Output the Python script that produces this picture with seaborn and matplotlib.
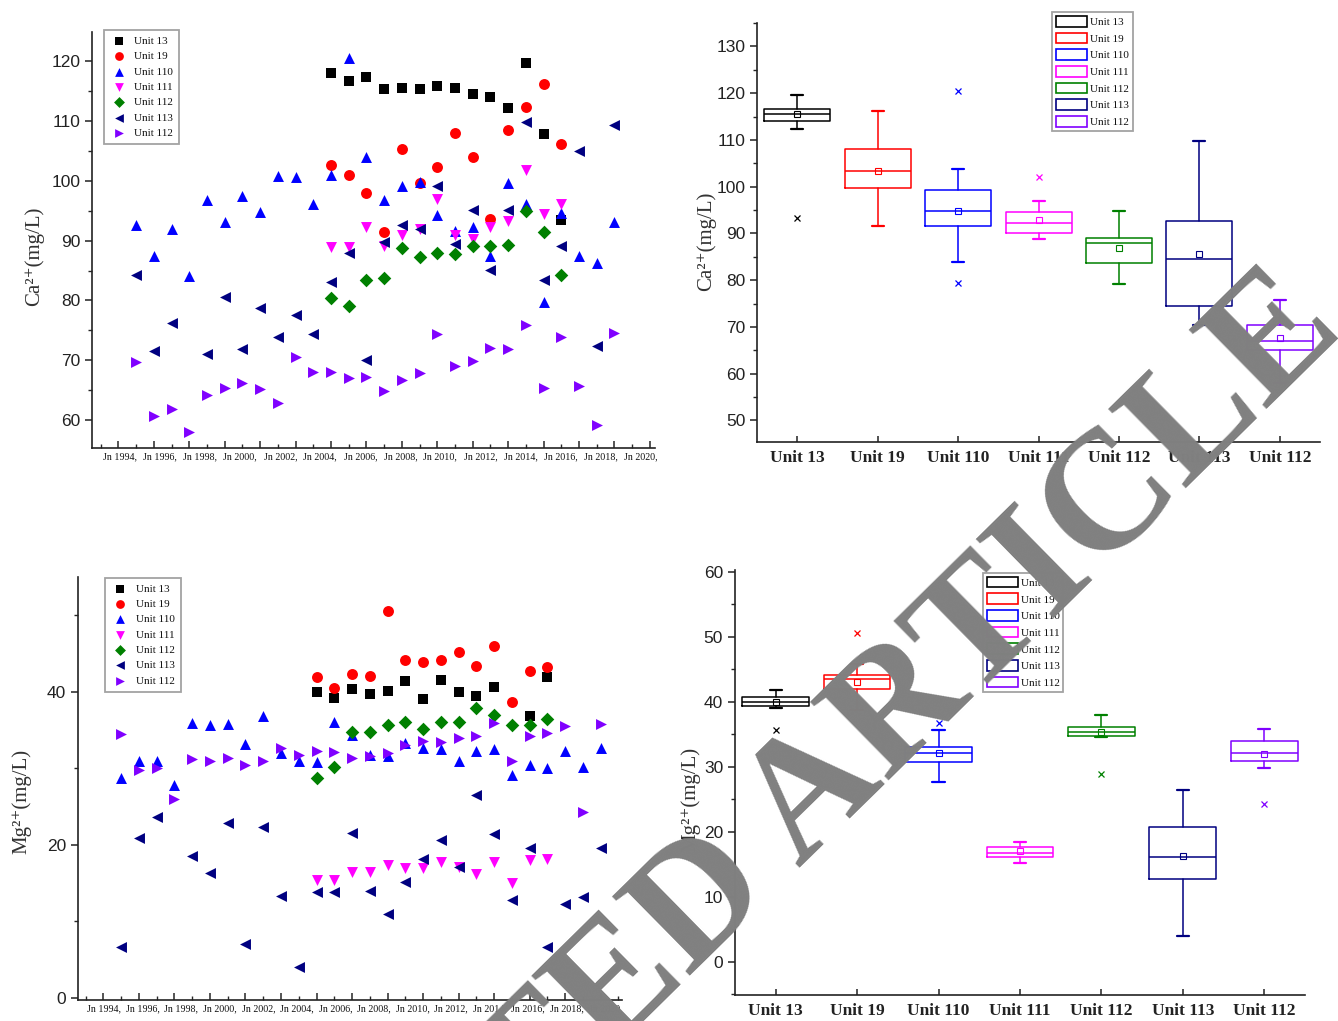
import matplotlib
matplotlib.use("Agg")
import matplotlib.pyplot as plt
from matplotlib.patches import Patch
from matplotlib.ticker import MultipleLocator
import numpy as np
import seaborn as sns

# ---------------- data ----------------
units = ["Unit 13", "Unit 19", "Unit 110", "Unit 111", "Unit 112", "Unit 113", "Unit 112"]
colors = ["#000000", "#FF0000", "#0000FF", "#FF00FF", "#008000", "#000080", "#8000FF"]
markers = ["s", "o", "^", "v", "D", "<", ">"]

date_labels = ["Jn 1994,", "Jn 1996,", "Jn 1998,", "Jn 2000,", "Jn 2002,", "Jn 2004,", "Jn 2006,",
               "Jn 2008,", "Jn 2010,", "Jn 2012,", "Jn 2014,", "Jn 2016,", "Jn 2018,", "Jn 2020,"]

# sampling index of each observation (one step per sampling campaign)
idx_late = list(range(12, 26))
idx_all = list(range(1, 29))
idx_113 = [1, 2, 3] + list(range(5, 29))
idx_mg13 = list(range(12, 23)) + [24, 25]

# Ca2+ (mg/L)
ca_u13 = [118.1, 116.7, 117.4, 115.4, 115.5, 115.4, 115.9, 115.5, 114.5, 114.0, 112.2, 119.7, 107.9, 93.4]
ca_u19 = [102.7, 100.9, 97.9, 91.5, 105.3, 99.7, 102.3, 108.0, 104.0, 93.6, 108.5, 112.4, 116.2, 106.2]
ca_u110 = [92.6, 87.5, 91.9, 84.0, 96.8, 93.1, 97.5, 94.8, 100.8, 100.7, 96.2, 100.9, 120.6, 104.0,
           96.8, 99.2, 99.8, 94.3, 91.6, 92.2, 87.5, 99.7, 96.2, 79.7, 94.7, 87.4, 86.2, 93.1]
ca_u111 = [89.0, 88.9, 92.2, 89.1, 90.9, 91.9, 96.9, 90.9, 90.2, 92.3, 93.3, 101.9, 94.5, 96.1]
ca_u112 = [80.4, 79.1, 83.4, 83.7, 88.7, 87.3, 87.9, 87.7, 89.1, 89.1, 89.2, 94.9, 91.5, 84.3]
ca_u113 = [84.3, 71.5, 76.3, 71.1, 80.6, 71.8, 78.8, 73.8, 77.5, 74.4, 83.1, 87.9, 70.0, 89.7,
           92.6, 92.0, 99.2, 89.5, 95.1, 85.1, 95.1, 109.9, 83.4, 89.1, 105.0, 72.4, 109.4]
ca_u112b = [69.7, 60.7, 61.8, 57.9, 64.2, 65.3, 66.1, 65.1, 62.9, 70.6, 68.1, 68.1, 67.0, 67.1,
            64.9, 66.7, 67.9, 74.4, 69.1, 69.9, 72.0, 71.9, 75.8, 65.4, 73.9, 65.7, 59.2, 74.5]

# Mg2+ (mg/L)
mg_u13 = [40.0, 39.2, 40.3, 39.7, 40.1, 41.4, 39.0, 41.5, 40.0, 39.4, 40.6, 36.9, 41.9]
mg_u19 = [41.9, 40.5, 42.3, 42.0, 50.6, 44.2, 43.9, 44.1, 45.2, 43.4, 46.0, 38.7, 42.7, 43.3]
mg_u110 = [28.7, 31.0, 31.0, 27.8, 35.9, 35.7, 35.8, 33.2, 36.9, 32.0, 31.0, 30.8, 36.0, 34.3,
           31.8, 31.6, 33.3, 32.7, 32.5, 31.0, 32.2, 32.5, 29.1, 30.5, 30.0, 32.3, 30.2, 32.7]
mg_u111 = [15.4, 15.4, 16.5, 16.5, 17.4, 17.0, 17.0, 17.7, 17.1, 16.2, 17.8, 15.0, 18.0, 18.2]
mg_u112 = [28.8, 30.2, 34.8, 34.7, 35.6, 36.0, 35.1, 36.1, 36.1, 37.9, 37.0, 35.6, 35.6, 36.4]
mg_u113 = [6.6, 20.9, 23.6, 18.6, 16.3, 22.8, 7.0, 22.4, 13.3, 4.1, 13.9, 13.9, 21.5, 14.0,
           11.0, 15.2, 18.2, 20.6, 17.1, 26.5, 21.4, 12.8, 19.6, 6.7, 12.3, 13.2, 19.6]
mg_u112b = [34.5, 29.8, 30.0, 26.0, 31.2, 31.0, 31.3, 30.4, 31.0, 32.6, 31.8, 32.3, 32.1, 31.3,
            31.6, 32.0, 33.0, 33.6, 33.4, 34.0, 34.2, 35.9, 30.9, 34.2, 34.6, 35.5, 24.3, 35.8]

# box statistics per unit (Ca2+)
ca_q1 = [114.1, 99.8, 91.6, 90.1, 83.7, 74.4, 65.0]
ca_med = [115.5, 103.4, 94.8, 92.3, 87.9, 84.6, 67.0]
ca_q3 = [116.7, 108.0, 99.3, 94.6, 89.1, 92.6, 70.4]
ca_lo = [112.4, 91.6, 83.8, 88.9, 79.1, 70.4, 58.0]
ca_hi = [119.6, 116.1, 103.7, 97.0, 94.8, 109.8, 75.7]
ca_mean = [115.6, 103.4, 94.8, 92.9, 86.9, 85.6, 67.6]
ca_out = [[93.4], [], [120.5, 79.4], [102.0], [], [], []]

# box statistics per unit (Mg2+)
mg_q1 = [39.3, 42.0, 30.8, 16.1, 34.8, 12.8, 30.9]
mg_med = [40.0, 43.5, 32.1, 16.8, 35.4, 16.2, 32.1]
mg_q3 = [40.7, 44.2, 33.0, 17.6, 36.1, 20.8, 34.0]
mg_lo = [39.0, 38.7, 27.7, 15.2, 34.6, 4.0, 29.8]
mg_hi = [41.8, 45.8, 35.7, 18.4, 38.0, 26.5, 35.8]
mg_mean = [40.0, 43.0, 32.1, 17.0, 35.3, 16.3, 32.0]
mg_out = [[35.6], [50.6], [36.7], [], [28.9], [], [24.3]]

# ---------------- style ----------------
sns.set_theme(style="ticks")
plt.rcParams["font.family"] = ["Liberation Sans", "DejaVu Sans"]
plt.rcParams["axes.linewidth"] = 1.2
plt.rcParams["axes.edgecolor"] = "#222222"

SERIF = ["Liberation Serif", "DejaVu Serif"]

fig = plt.figure(figsize=(13.38, 10.21), dpi=100)
ax_tl = fig.add_axes([0.0688, 0.5612, 0.4208, 0.4074])
ax_tr = fig.add_axes([0.5658, 0.5671, 0.4208, 0.4104])
ax_bl = fig.add_axes([0.0583, 0.0206, 0.4066, 0.4143])
ax_br = fig.add_axes([0.5493, 0.0255, 0.4260, 0.4163])

LEG_KW = dict(loc="upper left", borderaxespad=0, prop={"family": SERIF, "size": 8},
              frameon=True, fancybox=False, labelspacing=0.5)


def style_legend(leg):
    leg.get_frame().set_edgecolor("#8c8c8c")
    leg.get_frame().set_linewidth(1.3)
    for t in leg.get_texts():
        t.set_color("#111111")


def scatter_panel(ax, series, ylim, ymajor, yminor, xlim, lab_start, lab_step,
                  ylabel, ylabel_xy, legend_xy):
    for (xs, ys), name, c, m in zip(series, units, colors, markers):
        sns.scatterplot(x=xs, y=ys, ax=ax, color=c, marker=m,
                        s=48 if m == "D" else 62, linewidth=0, label=name, legend=False)
    ax.set_xlim(*xlim)
    ax.set_ylim(*ylim)
    ax.xaxis.set_major_locator(MultipleLocator(2))
    ax.xaxis.set_minor_locator(MultipleLocator(1))
    ax.yaxis.set_major_locator(MultipleLocator(ymajor))
    ax.yaxis.set_minor_locator(MultipleLocator(yminor))
    ax.tick_params(axis="x", which="major", direction="in", length=5, width=1.1, labelbottom=False)
    ax.tick_params(axis="x", which="minor", direction="in", length=3, width=1.0)
    ax.tick_params(axis="y", which="major", direction="out", length=5, width=1.1,
                   labelsize=12.5, colors="#222222")
    ax.tick_params(axis="y", which="minor", direction="out", length=3, width=1.0)
    sec = ax.secondary_xaxis("bottom")
    sec.set_xticks([lab_start + lab_step * k for k in range(len(date_labels))], date_labels)
    sec.tick_params(length=0, pad=3, labelsize=7.2, colors="#111111")
    for t in sec.get_xticklabels():
        t.set_family(SERIF)
    sec.spines["bottom"].set_visible(False)
    ax.set_ylabel(ylabel, family=SERIF, fontsize=15, color="#333333")
    ax.yaxis.set_label_coords(*ylabel_xy)
    sns.despine(ax=ax)
    leg = ax.legend(bbox_to_anchor=legend_xy, handletextpad=0.6, borderpad=0.55,
                    handlelength=1.6, markerscale=0.8, **LEG_KW)
    style_legend(leg)


def box_panel(ax, q1, med, q3, lo, hi, mean, out, ylim, ylabel, ylabel_xy, legend_xy):
    for i, c in enumerate(colors):
        st = dict(label=units[i], q1=q1[i], med=med[i], q3=q3[i], whislo=lo[i],
                  whishi=hi[i], mean=mean[i], fliers=out[i])
        ax.bxp([st], positions=[i], widths=0.82, showmeans=True, capwidths=[0.15],
               boxprops=dict(color=c, lw=1.1), medianprops=dict(color=c, lw=1.1),
               whiskerprops=dict(color=c, lw=1.1), capprops=dict(color=c, lw=1.6),
               meanprops=dict(marker="s", markerfacecolor="none", markeredgecolor=c,
                              markersize=4, markeredgewidth=0.8),
               flierprops=dict(marker="x", markeredgecolor=c, markersize=4.5,
                               markeredgewidth=0.9))
    ax.set_xlim(-0.5, 6.5)
    ax.set_ylim(*ylim)
    ax.set_xticks(range(len(units)), units)
    for t in ax.get_xticklabels():
        t.set_family(SERIF)
        t.set_fontweight("bold")
        t.set_fontsize(12.5)
    ax.yaxis.set_major_locator(MultipleLocator(10))
    ax.yaxis.set_minor_locator(MultipleLocator(5))
    ax.tick_params(axis="x", direction="in", length=4, width=1.1, pad=6, colors="#222222")
    ax.tick_params(axis="y", which="major", direction="out", length=5, width=1.1,
                   labelsize=12.5, colors="#222222")
    ax.tick_params(axis="y", which="minor", direction="out", length=3, width=1.0)
    ax.set_ylabel(ylabel, family=SERIF, fontsize=15, color="#333333")
    ax.yaxis.set_label_coords(*ylabel_xy)
    sns.despine(ax=ax)
    handles = [Patch(facecolor="white", edgecolor=c, lw=1.2) for c in colors]
    leg = ax.legend(handles, units, bbox_to_anchor=legend_xy, handletextpad=0.25,
                    borderpad=0.35, handlelength=2.8, handleheight=1.1, **LEG_KW)
    style_legend(leg)


ca_series = [(idx_late, ca_u13), (idx_late, ca_u19), (idx_all, ca_u110), (idx_late, ca_u111),
             (idx_late, ca_u112), (idx_113, ca_u113), (idx_all, ca_u112b)]
mg_series = [(idx_mg13, mg_u13), (idx_late, mg_u19), (idx_all, mg_u110), (idx_late, mg_u111),
             (idx_late, mg_u112), (idx_113, mg_u113), (idx_all, mg_u112b)]

scatter_panel(ax_tl, ca_series, (55.3, 124.9), 10, 5, (-1.49, 30.3), 0.1, 2.26,
              "Ca²⁺(mg/L)", (-0.085, 0.46), (0.021, 1.005))
scatter_panel(ax_bl, mg_series, (-0.26, 55.0), 20, 10, (-1.43, 29.2), 0.05, 2.17,
              "Mg²⁺(mg/L)", (-0.085, 0.47), (0.05, 0.998))
box_panel(ax_tr, ca_q1, ca_med, ca_q3, ca_lo, ca_hi, ca_mean, ca_out, (45.4, 135.0),
          "Ca²⁺(mg/L)", (-0.072, 0.48), (0.524, 1.026))
box_panel(ax_br, mg_q1, mg_med, mg_q3, mg_lo, mg_hi, mg_mean, mg_out, (-5.1, 60.3),
          "Mg²⁺(mg/L)", (-0.06, 0.46), (0.435, 0.993))

# diagonal notice stamped across the figure
fig.text(1.006, 0.675, "RETRACTED ARTICLE", rotation=44.5, rotation_mode="anchor",
         ha="right", va="baseline", fontsize=122, fontweight="bold", family=SERIF,
         color="#808080", zorder=10)

fig.savefig("out.png", dpi=100)
